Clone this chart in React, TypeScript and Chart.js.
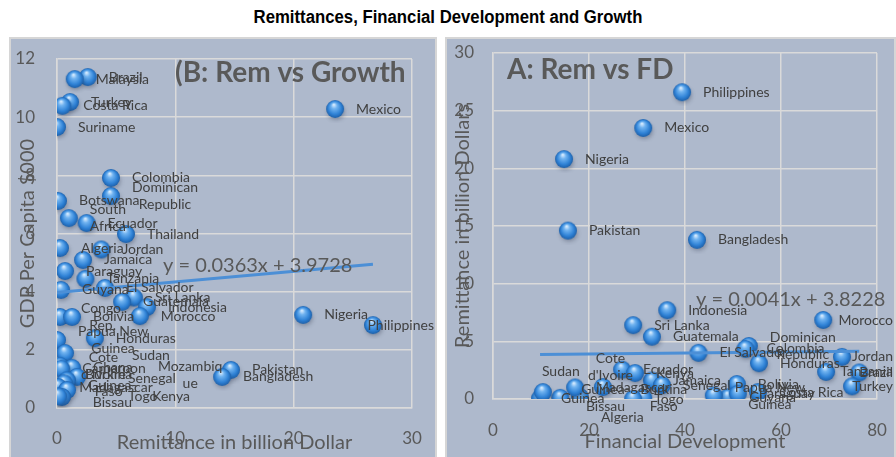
import React, { useEffect, useRef } from 'react';
import { Chart, registerables } from 'chart.js';

Chart.register(...registerables);

// ---------- Panel B: Remittances vs Growth ----------
const growthCountries = [
  'Mexico', 'Philippines', 'Nigeria', 'Pakistan', 'Bangladesh', 'Brazil', 'Malaysia', 'Turkey',
  'Costa Rica', 'Suriname', 'Colombia', 'Dominican\nRepublic', 'Botswana', 'South\nAfrica', 'Ecuador',
  'Thailand', 'Algeria', 'Jordan', 'Jamaica', 'Paraguay', 'Tanzania', 'Guyana', 'El Salvador',
  'Sri Lanka', 'Guatemala', 'Indonesia', 'Morocco', 'Congo,\nRep.', 'Bolivia', 'Papua New\nGuinea',
  'Honduras', 'Sudan', "Cote\nd'Ivoire", 'Ghana', 'Cameroon', 'Mozambiq\nue', 'Senegal',
  'Burkina\nFaso', 'Madagascar', 'Guinea-\nBissau', 'Togo', 'Kenya',
];
const growthRemittance = [
  23.5, 26.7, 20.8, 14.7, 13.95, 2.6, 1.5, 1.1,
  0.45, 0.0, 4.56, 4.56, 0.08, 1.0, 2.5,
  5.83, 0.25, 3.75, 2.2, 0.68, 2.4, 0.34, 4.06,
  6.5, 5.5, 7.6, 7.0, 0.25, 1.27, 0.0,
  3.2, 0.68, 0.25, 1.27, 0.35, 1.69, 0.85,
  0.6, 0.1, 0.85, 0.42, 0.1,
];
const growthGdp = [
  10.28, 2.85, 3.2, 1.31, 1.07, 11.38, 11.31, 10.52,
  10.39, 9.66, 7.91, 7.29, 7.12, 6.53, 6.36,
  5.98, 5.5, 5.45, 5.09, 4.71, 4.44, 4.06, 4.13,
  3.8, 3.65, 3.47, 3.16, 3.13, 3.13, 2.34,
  2.4, 1.89, 1.45, 1.38, 1.35, 1.07, 0.95,
  0.85, 0.72, 0.62, 0.38, 0.4,
];
const growthXTicks = [0, 10, 20, 30];
const growthYTicks = [0, 2, 4, 6, 8, 10, 12];
const growthTrend = { slope: 0.0363, intercept: 3.9728 };

// ---------- Panel A: Remittances vs Financial Development ----------
const fdCountries = [
  'Philippines', 'Mexico', 'Nigeria', 'Pakistan', 'Bangladesh', 'Indonesia', 'Morocco', 'Sri Lanka',
  'Guatemala', 'El Salvador', 'Dominican\nRepublic', 'Colombia', 'Honduras', 'Jordan', 'Tanzania',
  'Brazil', 'Turkey', 'Bolivia', 'Costa Rica', 'Guyana', 'Paraguay', 'Papua New\nGuinea', 'Ecuador',
  'Jamaica', 'Senegal', 'Kenya', 'Burkina\nFaso', 'Togo', "Cote\nd'Ivoire", 'Algeria', 'Madagascar',
  'Guinea-\nBissau', 'Guinea', 'Sudan',
];
const fdFinancial = [
  39.4, 31.3, 14.8, 15.6, 42.5, 36.3, 68.8, 29.2,
  33.1, 42.8, 53.3, 52.6, 55.4, 72.7, 69.4,
  76.3, 74.8, 50.8, 55.2, 49.0, 51.0, 46.0, 26.9,
  33.1, 35.2, 29.6, 31.3, 29.2, 22.9, 18.1, 17.1,
  14.0, 9.8, 10.4,
];
const fdRemittance = [
  26.6, 23.5, 20.8, 14.6, 13.8, 7.7, 6.85, 6.4,
  5.4, 4.0, 4.6, 4.35, 3.1, 3.65, 2.35,
  2.3, 1.1, 1.3, 0.6, 0.15, 0.45, 0.3, 2.55,
  1.6, 1.2, 2.25, 0.1, 0.0, 1.04, 0.17, 1.0,
  0.1, 0.05, 0.6,
];
const fdXTicks = [0, 20, 40, 60, 80];
const fdYTicks = [0, 5, 10, 15, 20, 25, 30];
const fdTrend = { slope: 0.0041, intercept: 3.8228 };

// manually dragged data labels (pixel nudges, like in the original workbook)
const growthLabelNudge: Record<string, [number, number]> = {
  Sudan: [46, 2],
  'Mozambiq\nue': [60, -2],
  Senegal: [40, -2],
  'Guinea-\nBissau': [0, 4],
  Togo: [45, 0],
  Kenya: [73, 0],
};
const fdLabelNudge: Record<string, [number, number]> = {
  'Burkina\nFaso': [-24, 0],
  "Cote\nd'Ivoire": [-36, -20],
  Algeria: [0, 20],
  Sudan: [-22, -21],
};

const PANEL_BG = '#aeb9cc';
const GRID = '#dadada';
const TEXT = '#595959';
const LABEL = '#404040';
const FONT = 'Lato';

function makeSphere(r: number): HTMLCanvasElement {
  const pad = 5;
  const size = (r + pad) * 2;
  const c = document.createElement('canvas');
  c.width = size;
  c.height = size;
  const ctx = c.getContext('2d')!;
  const cx = size / 2;
  const cy = size / 2;
  ctx.save();
  ctx.filter = 'blur(2px)';
  ctx.fillStyle = 'rgba(40,50,70,0.35)';
  ctx.beginPath();
  ctx.ellipse(cx + 1, cy + 3, r * 0.95, r * 0.85, 0, 0, Math.PI * 2);
  ctx.fill();
  ctx.restore();
  const g = ctx.createRadialGradient(cx - r * 0.15, cy - r * 0.5, r * 0.05, cx, cy, r);
  g.addColorStop(0, '#d8ecff');
  g.addColorStop(0.3, '#6fb2f0');
  g.addColorStop(0.72, '#2f82d6');
  g.addColorStop(1, '#1d5fa8');
  ctx.fillStyle = g;
  ctx.beginPath();
  ctx.arc(cx, cy, r, 0, Math.PI * 2);
  ctx.fill();
  return c;
}

function panelPlugin(subtitle: string, subX: number, subY: number, eq: string, eqX: number, eqY: number) {
  return {
    id: 'panelDeco',
    beforeDraw(chart: any) {
      const { ctx, width, height } = chart;
      ctx.save();
      ctx.fillStyle = PANEL_BG;
      ctx.fillRect(0, 0, width, height);
      ctx.strokeStyle = '#d6d6d6';
      ctx.lineWidth = 2;
      ctx.strokeRect(1, 1, width - 2, height + 4);
      ctx.restore();
    },
    afterDraw(chart: any) {
      const { ctx } = chart;
      ctx.save();
      ctx.fillStyle = TEXT;
      ctx.textBaseline = 'middle';
      ctx.textAlign = 'left';
      ctx.font = `bold 28px ${FONT}`;
      ctx.fillText(subtitle, subX, subY);
      ctx.font = `20px ${FONT}`;
      ctx.fillText(eq, eqX, eqY);
      ctx.restore();
    },
  };
}

function labelPlugin(names: string[], nudge: Record<string, [number, number]>) {
  return {
    id: 'pointLabels',
    afterDatasetsDraw(chart: any) {
      const meta = chart.getDatasetMeta(1);
      const ctx = chart.ctx;
      ctx.save();
      ctx.font = `14px ${FONT}`;
      ctx.fillStyle = LABEL;
      ctx.textBaseline = 'middle';
      ctx.textAlign = 'center';
      const lh = 17;
      meta.data.forEach((el: any, i: number) => {
        const name = names[i];
        const lines = name.split('\n');
        const w = Math.max(...lines.map((l) => ctx.measureText(l).width));
        const n = nudge[name] || [0, 0];
        let left = el.x + 21 + n[0];
        if (left + w > chart.width - 3) left = chart.width - 3 - w;
        const top = el.y + n[1] - ((lines.length - 1) * lh) / 2;
        lines.forEach((l, j) => ctx.fillText(l, left + w / 2, top + j * lh));
      });
      ctx.restore();
    },
  };
}

function buildChart(
  canvas: HTMLCanvasElement,
  sphere: HTMLCanvasElement,
  xs: number[],
  ys: number[],
  names: string[],
  nudge: Record<string, [number, number]>,
  trend: { slope: number; intercept: number },
  xTicks: number[],
  yTicks: number[],
  xTitle: string,
  yTitle: string,
  geom: { padTop: number; padRight: number; yW: number; xH: number; yTickPad: number; xTickPad: number; yTitlePad: number; xTitlePad: number },
  deco: any,
) {
  const minX = Math.min(...xs);
  const maxX = Math.max(...xs);
  const points = xs.map((x, i) => ({ x, y: ys[i] }));
  const trendPts = [
    { x: minX, y: trend.slope * minX + trend.intercept },
    { x: maxX, y: trend.slope * maxX + trend.intercept },
  ];
  const tickFont = { family: FONT, size: 17 };
  const titleFont = { family: FONT, size: 20 };
  const zeroPad = (s: any) => {
    s.paddingTop = 0;
    s.paddingBottom = 0;
    s.paddingLeft = 0;
    s.paddingRight = 0;
  };
  return new Chart(canvas, {
    type: 'scatter',
    data: {
      datasets: [
        {
          label: 'trend',
          data: trendPts,
          showLine: true,
          borderColor: '#4c8fd6',
          borderWidth: 3,
          pointRadius: 0,
          order: 0,
        } as any,
        {
          label: 'countries',
          data: points,
          pointStyle: sphere as any,
          pointRadius: 9,
          order: 1,
        },
      ],
    },
    options: {
      animation: false,
      responsive: false,
      maintainAspectRatio: false,
      events: [],
      layout: { padding: { top: geom.padTop, right: geom.padRight, left: 0, bottom: 0 } },
      plugins: { legend: { display: false }, tooltip: { enabled: false }, title: { display: false } },
      scales: {
        x: {
          type: 'linear',
          min: xTicks[0],
          max: xTicks[xTicks.length - 1],
          ticks: { stepSize: xTicks[1] - xTicks[0], color: TEXT, font: tickFont, padding: geom.xTickPad, maxRotation: 0 },
          grid: { color: GRID, lineWidth: 1.5, drawTicks: false },
          border: { color: GRID, width: 1.5 },
          title: { display: true, text: xTitle, color: TEXT, font: titleFont, padding: { top: 0, bottom: geom.xTitlePad } },
          afterFit: (s: any) => {
            s.height = geom.xH;
            zeroPad(s);
          },
        },
        y: {
          type: 'linear',
          min: yTicks[0],
          max: yTicks[yTicks.length - 1],
          ticks: { stepSize: yTicks[1] - yTicks[0], color: TEXT, font: tickFont, padding: geom.yTickPad },
          grid: { color: GRID, lineWidth: 1.5, drawTicks: false },
          border: { color: GRID, width: 1.5 },
          title: { display: true, text: yTitle, color: TEXT, font: titleFont, padding: { top: geom.yTitlePad, bottom: 0 } },
          afterFit: (s: any) => {
            s.width = geom.yW;
            zeroPad(s);
          },
        },
      },
    } as any,
    plugins: [deco, labelPlugin(names, nudge)],
  });
}

export default function App() {
  const leftRef = useRef<HTMLCanvasElement>(null);
  const rightRef = useRef<HTMLCanvasElement>(null);

  useEffect(() => {
    document.body.style.margin = '0';
    const sphere = makeSphere(9);
    const left = buildChart(
      leftRef.current!,
      sphere,
      growthRemittance,
      growthGdp,
      growthCountries,
      growthLabelNudge,
      growthTrend,
      growthXTicks,
      growthYTicks,
      'Remittance in billion Dollar',
      'GDP Per Capita $000',
      { padTop: 22, padRight: 25, yW: 48, xH: 49, yTickPad: 22, xTickPad: 20, yTitlePad: 7, xTitlePad: 2 },
      panelPlugin('(B: Rem vs Growth', 166, 36, 'y = 0.0363x + 3.9728', 154, 229),
    );
    const right = buildChart(
      rightRef.current!,
      sphere,
      fdFinancial,
      fdRemittance,
      fdCountries,
      fdLabelNudge,
      fdTrend,
      fdXTicks,
      fdYTicks,
      'Financial Development',
      'Remittance in billion Dollars',
      { padTop: 16, padRight: 19, yW: 48, xH: 58, yTickPad: 19, xTickPad: 21, yTitlePad: 6, xTitlePad: 3 },
      panelPlugin('A: Rem vs FD', 62, 33, 'y = 0.0041x + 3.8228', 251, 263),
    );
    return () => {
      left.destroy();
      right.destroy();
    };
  }, []);

  return (
    <div style={{ position: 'relative', width: 896, height: 457, background: '#ffffff', overflow: 'hidden' }}>
      <div
        style={{
          position: 'absolute',
          left: 0,
          top: 6,
          width: 896,
          textAlign: 'center',
          fontFamily: '"Liberation Sans", Arial, sans-serif',
          fontWeight: 'bold',
          fontSize: 18,
          lineHeight: '22px',
          color: '#000',
          transform: 'scaleX(0.93)',
          transformOrigin: '448px 0',
        }}
      >
        Remittances, Financial Development and Growth
      </div>
      <canvas ref={leftRef} width={428} height={420} style={{ position: 'absolute', left: 9, top: 37, width: 428, height: 420 }} />
      <canvas ref={rightRef} width={451} height={420} style={{ position: 'absolute', left: 445, top: 37, width: 451, height: 420 }} />
    </div>
  );
}
